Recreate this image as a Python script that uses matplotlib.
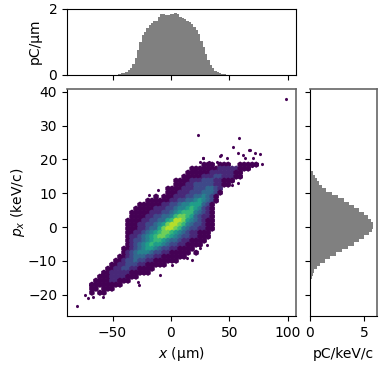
import numpy as np
import matplotlib
matplotlib.use('Agg')
import matplotlib.pyplot as plt

# projection of charge on x
x_bin_edges = np.arange(-51, 52, 2)
x_profile = [.005, .01, .015, .02, .05, .07, .1, .14, .2, .33, .52, .75, 1.0, 1.2, 1.3, 1.42, 1.5,
             1.57, 1.63, 1.62, 1.75, 1.82, 1.83, 1.8, 1.8, 1.84, 1.83, 1.87, 1.82, 1.75, 1.72, 1.68,
             1.63, 1.6, 1.53, 1.44, 1.35, 1.22, 1.03, .85, .63, .45, .3, .2, .13, .09, .06, .04,
             .02, .01, .005]

# projection of charge on px
px_bin_edges = np.arange(19.5, -19, -1)
px_profile = [.02, .08, .18, .33, .47, .65, .88, 1.18, 1.5, 2.05, 2.65, 3.15, 3.6, 4.1, 4.55, 5.0,
              5.35, 5.62, 5.8, 5.83, 5.72, 5.45, 5.05, 4.55, 4.05, 3.55, 3.0, 2.45, 1.9, 1.4, 1.0,
              .65, .45, .35, .22, .12, .05, .02]

# phase space density, one string per px row
grid_x0, grid_dx = -71.1, 3.43
grid_y0, grid_dy = 18.44, -1.183
density_rows = [
    '00000000000000000000000000000111011100111110',
    '00000000000000000000000000111111122222111',
    '000000000000000000000000011111122222211',
    '000000000000000000000000111112223322211',
    '0000000000000000000000111122233322111',
    '000000000000000000000011122333332211',
    '0000000000000000000011112223334432',
    '0000000000000000000011122233344431',
    '000000000000000001011122233445431',
    '000000000000000111111223344565431',
    '00000000000001111112233455666431',
    '00000000000011111222334556765321',
    '00000000000111112223345677754321',
    '00000000000111122334457887643221',
    '00000000001111223344679986543211',
    '00000000001112233456899875433211',
    '00000000001112234468998754332211',
    '0000000000112234567887654322111',
    '0000000000122345678876543322111',
    '000000000012334567765443221111',
    '00000000001234567665433221111',
    '000000000112345665433221111',
    '0000000001234555433221111101',
    '0000000011234443322111111',
    '00000001123343322111111',
    '00000011223332211111',
    '00000112233221111',
    '0000112222211111',
    '0001112222111',
    '00111122111',
    '011111111',
    '0110111',
    '01011',
]

# lone macroparticles
lone_x = [98.3, 23.4, 58.3, 52.8, 67.1, 72, 76.3, 77.7, 42, 27.7, 61.4, 69.1, 57.7, -18.6, -10.9,
          -59.4, -69.4, -73.7, -71.4, -80.3, -66.6, -58, -27.2, -28, -9.4, .6, 13.5, 17.7, 24.9, 30.6,
          27.7, 24.9, 32.8, 42.8, 57.7, 67.7, 47.7, 63.4, 70.5, 20.6, 13.5, 39.2, 52]
lone_y = [37.8, 27.2, 26.2, 23.6, 22.8, 21.8, 21.6, 18.6, 21.1, 20.5, 21.3, 18.1, 12.9, 9.5, 10.9,
          -13.9, -17.2, -20.1, -21.1, -23.4, -20.6, -20.6, -17.2, -16.2, -14.2, -11.2, -9.1, -9.8, -6.3, -5.3,
          20.3, 19.3, 19.1, 21.2, 21.8, 22.8, 20.3, 20.3, 20.5, 16.9, 14.9, 19.3, 12.4]

xs, ys, cs = [], [], []
for j, row in enumerate(density_rows):
    for i, level in enumerate(row):
        if level != '0':
            xs.append(grid_x0 + i * grid_dx)
            ys.append(grid_y0 + j * grid_dy)
            cs.append(int(level))

W, H = 389, 366
fig = plt.figure(figsize=(W / 100, H / 100), dpi=100)
ax = fig.add_axes([67 / W, 1 - 316 / H, 229 / W, 227 / H])
ax_top = fig.add_axes([67 / W, 1 - 75 / H, 229 / W, 66.5 / H], sharex=ax)
ax_right = fig.add_axes([309.5 / W, 1 - 316 / H, 67.5 / W, 227 / H], sharey=ax)

ax.scatter(xs, ys, c=cs, s=21, marker='h', cmap='viridis', vmin=1, vmax=10, linewidths=0)
ax.scatter(lone_x, lone_y, s=6, marker='h', color='#440154', linewidths=0)
ax.set_xlim(-89, 107)
ax.set_ylim(-26.3, 40.8)
ax.set_xticks([-50, 0, 50, 100])
ax.set_yticks([-20, -10, 0, 10, 20, 30, 40])
ax.set_xlabel('$x$ (µm)', labelpad=4)
ax.set_ylabel('$p_x$ (keV/c)', labelpad=1)

ax_top.stairs(x_profile, x_bin_edges, fill=True, color='gray')
ax_top.set_ylim(0, 2)
ax_top.set_yticks([0, 2])
ax_top.set_ylabel('pC/µm', labelpad=5)
ax_top.tick_params(labelbottom=False)

ax_right.stairs(px_profile[::-1], px_bin_edges[::-1], fill=True, color='gray', orientation='horizontal')
ax_right.set_xlim(0, 6.2)
ax_right.set_xticks([0, 5])
ax_right.set_xlabel('pC/keV/c', labelpad=5)
ax_right.tick_params(labelleft=False)

for a in (ax, ax_right):
    for side in ('top', 'right'):
        a.spines[side].set_color('#666666')
        a.spines[side].set_linewidth(1.2)

fig.savefig('out.png', dpi=100)
